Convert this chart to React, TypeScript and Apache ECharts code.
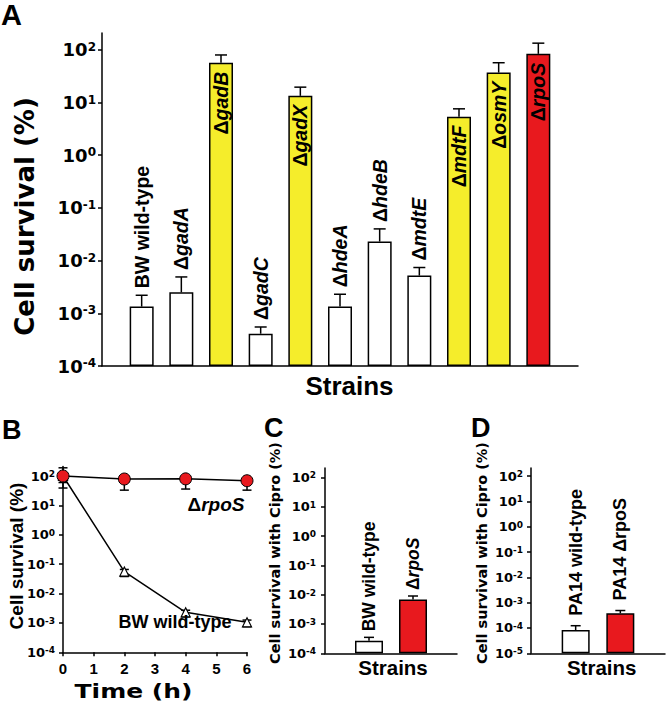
import React, { useEffect, useRef } from 'react';
import * as echarts from 'echarts';

// ---------- Panel A ----------
const strainsA = ['BW wild-type', 'ΔgadA', 'ΔgadB', 'ΔgadC', 'ΔgadX', 'ΔhdeA', 'ΔhdeB', 'ΔmdtE', 'ΔmdtF', 'ΔosmY', 'ΔrpoS'];
const survivalA = [1.34e-3, 2.5e-3, 57, 4.1e-4, 13.4, 1.34e-3, 0.023, 5.2e-3, 5.4, 37, 84];
const errorTopA = [2.2e-3, 4.9e-3, 80, 5.5e-4, 19.6, 2.3e-3, 0.04, 7.4e-3, 7.6, 57, 134];
const fillA = ['white', 'white', 'yellow', 'white', 'yellow', 'white', 'white', 'white', 'yellow', 'yellow', 'red'];
const exponentsA = [-4, -3, -2, -1, 0, 1, 2];

// ---------- Panel B ----------
const timeB = [0, 2, 4, 6];
const timeTicksB = [0, 1, 2, 3, 4, 5, 6];
const rpoSB = [100, 79, 80, 69];
const rpoSLowB = [39, 33, 36, 33];
const rpoSHighB = [190, 100, 100, 85];
const wildB = [100, 0.056, 2.3e-3, 1.05e-3];
const wildLowB = [60, 0.038, 1.6e-3, 7.4e-4];
const wildHighB = [130, 0.066, 2.7e-3, 1.25e-3];
const exponentsB = [-4, -3, -2, -1, 0, 1, 2];

// ---------- Panel C ----------
const strainsC = ['BW wild-type', 'ΔrpoS'];
const survivalC = [2.7e-4, 6.9e-3];
const errorTopC = [3.5e-4, 9.0e-3];
const fillC = ['white', 'red'];
const exponentsC = [-4, -3, -2, -1, 0, 1, 2];

// ---------- Panel D ----------
const strainsD = ['PA14 wild-type', 'PA14 ΔrpoS'];
const survivalD = [8.3e-5, 3.8e-4];
const errorTopD = [1.23e-4, 4.9e-4];
const fillD = ['white', 'red'];
const exponentsD = [-5, -4, -3, -2, -1, 0, 1, 2];

const COLORS: Record<string, string> = { white: '#ffffff', yellow: '#F5ED2B', red: '#E8191E' };
const ARIAL = '"Liberation Sans", Arial, sans-serif';
const WIDE = '"DejaVu Sans", Verdana, sans-serif';
const TOP_PAD = 0.32;

const lg = (v: number, minExp: number) => Math.log10(v) - minExp;

function richToken(size: number, family: string, italic: boolean) {
  return { fontSize: size, fontWeight: 'bold', fontFamily: family, fontStyle: italic ? 'italic' : 'normal', fill: '#000', color: '#000' };
}

function labelText(label: string, italicGene: boolean) {
  const k = label.indexOf('Δ');
  if (k < 0) return `{n|${label}}`;
  const pre = label.slice(0, k + 1);
  const gene = label.slice(k + 1);
  return `{n|${pre}}{${italicGene ? 'i' : 'n'}|${gene}}`;
}

function yAxisLog(gridIndex: number, exps: number[], size: number, sup: number, margin: number) {
  const minExp = exps[0];
  const maxExp = exps[exps.length - 1];
  const vals = exps.map((e) => e - minExp);
  return {
    gridIndex,
    type: 'value',
    min: 0,
    max: maxExp - minExp + TOP_PAD,
    interval: 1,
    axisLine: { show: true, onZero: false, lineStyle: { color: '#000', width: 1.5 } },
    axisTick: { show: true, length: 4, inside: false, customValues: vals, lineStyle: { color: '#000', width: 1.5 } },
    axisLabel: {
      show: true,
      customValues: vals,
      margin,
      formatter: (v: number) => `{b|10}{s|${Math.round(v) + minExp}}`,
      rich: {
        b: { fontSize: size, fontWeight: 'bold', fontFamily: WIDE, color: '#000' },
        s: { fontSize: sup, fontWeight: 'bold', fontFamily: WIDE, color: '#000', verticalAlign: 'top' },
      },
    },
    splitLine: { show: false },
  };
}

function catAxis(gridIndex: number, names: string[]) {
  return {
    gridIndex,
    type: 'category',
    data: ['', ...names, ''],
    boundaryGap: false,
    axisLine: { show: true, onZero: false, lineStyle: { color: '#000', width: 1.5 } },
    axisTick: { show: false },
    axisLabel: { show: false },
    splitLine: { show: false },
  };
}

function barSeries(axisIndex: number, values: number[], fills: string[], minExp: number, width: number) {
  return {
    type: 'bar',
    xAxisIndex: axisIndex,
    yAxisIndex: axisIndex,
    barWidth: width,
    z: 2,
    data: values.map((v, i) => ({
      value: [i + 1, lg(v, minExp)],
      itemStyle: { color: COLORS[fills[i]], borderColor: '#000', borderWidth: 1.5 },
    })),
  };
}

function errLabelSeries(
  axisIndex: number,
  values: number[],
  tops: number[],
  names: string[],
  fills: string[],
  minExp: number,
  cap: number,
  fontSize: number,
  gapOut: number,
  gapIn: number,
  italicGene: boolean,
  colouredInside: boolean
) {
  return {
    type: 'custom',
    xAxisIndex: axisIndex,
    yAxisIndex: axisIndex,
    z: 3,
    data: values.map((v, i) => [i + 1, lg(v, minExp), lg(tops[i], minExp)]),
    renderItem: (params: any, api: any) => {
      const i = params.dataIndex;
      const x = api.value(0);
      const p = api.coord([x, api.value(1)]);
      const e = api.coord([x, api.value(2)]);
      const inside = colouredInside && fills[i] !== 'white';
      const ls = { stroke: '#000', lineWidth: 1.5 };
      return {
        type: 'group',
        children: [
          { type: 'line', shape: { x1: p[0], y1: p[1], x2: e[0], y2: e[1] }, style: ls },
          { type: 'line', shape: { x1: e[0] - cap, y1: e[1], x2: e[0] + cap, y2: e[1] }, style: ls },
          {
            type: 'text',
            x: p[0],
            y: inside ? p[1] + gapIn : e[1] - gapOut,
            rotation: Math.PI / 2,
            style: {
              text: labelText(names[i], italicGene),
              align: inside ? 'right' : 'left',
              verticalAlign: 'middle',
              textAlign: inside ? 'right' : 'left',
              textVerticalAlign: 'middle',
              fontSize,
              fontWeight: 'bold',
              fontFamily: ARIAL,
              fill: '#000',
              rich: { n: richToken(fontSize, ARIAL, false), i: richToken(fontSize, ARIAL, true) },
            },
          },
        ],
      };
    },
  };
}

function errSeriesB(axisIndex: number, lows: number[], highs: number[], minExp: number, cap: number) {
  return {
    type: 'custom',
    xAxisIndex: axisIndex,
    yAxisIndex: axisIndex,
    z: 1,
    data: timeB.map((t, i) => [t, lg(lows[i], minExp), lg(highs[i], minExp)]),
    renderItem: (params: any, api: any) => {
      const lo = api.coord([api.value(0), api.value(1)]);
      const hi = api.coord([api.value(0), api.value(2)]);
      const ls = { stroke: '#000', lineWidth: 1.5 };
      return {
        type: 'group',
        children: [
          { type: 'line', shape: { x1: lo[0], y1: lo[1], x2: hi[0], y2: hi[1] }, style: ls },
          { type: 'line', shape: { x1: lo[0] - cap, y1: lo[1], x2: lo[0] + cap, y2: lo[1] }, style: ls },
          { type: 'line', shape: { x1: hi[0] - cap, y1: hi[1], x2: hi[0] + cap, y2: hi[1] }, style: ls },
        ],
      };
    },
  };
}

function txt(text: string, x: number, y: number, size: number, family: string, opts: any = {}) {
  return {
    type: 'text',
    x,
    y,
    rotation: opts.rot || 0,
    scaleX: opts.sx || 1,
    z: 20,
    style: {
      text,
      fill: '#000',
      fontSize: size,
      fontWeight: 'bold',
      fontFamily: family,
      align: opts.align || 'center',
      verticalAlign: opts.va || 'middle',
      textAlign: opts.align || 'center',
      textVerticalAlign: opts.va || 'middle',
      rich: opts.rich,
    },
  };
}

export default function App() {
  const ref = useRef<HTMLDivElement>(null);
  useEffect(() => {
    if (!ref.current) return;
    const chart = echarts.init(ref.current, undefined, { renderer: 'svg' });
    const minA = exponentsA[0];
    const minB = exponentsB[0];
    const minC = exponentsC[0];
    const minD = exponentsD[0];
    const option: any = {
      animation: false,
      backgroundColor: '#ffffff',
      grid: [
        { left: 102, top: 33, width: 476, height: 333 },
        { left: 63, top: 466.6, width: 184, height: 185.7 },
        { left: 325, top: 468, width: 132, height: 185.3 },
        { left: 531, top: 468, width: 134, height: 185.3 },
      ],
      xAxis: [
        catAxis(0, strainsA),
        {
          gridIndex: 1,
          type: 'value',
          min: 0,
          max: timeTicksB[timeTicksB.length - 1],
          interval: 1,
          axisLine: { show: true, onZero: false, lineStyle: { color: '#000', width: 1.5 } },
          axisTick: { show: true, length: 4, lineStyle: { color: '#000', width: 1.5 } },
          axisLabel: { show: true, margin: 9, fontSize: 15, fontWeight: 'bold', fontFamily: ARIAL, color: '#000' },
          splitLine: { show: false },
        },
        catAxis(2, strainsC),
        catAxis(3, strainsD),
      ],
      yAxis: [
        yAxisLog(0, exponentsA, 18, 12, 6),
        yAxisLog(1, exponentsB, 13, 9, 8),
        yAxisLog(2, exponentsC, 13, 9, 9),
        yAxisLog(3, exponentsD, 13, 9, 8),
      ],
      series: [
        barSeries(0, survivalA, fillA, minA, 24),
        errLabelSeries(0, survivalA, errorTopA, strainsA, fillA, minA, 6, 19.5, 7, 9, true, true),
        errSeriesB(1, wildLowB, wildHighB, minB, 4.5),
        errSeriesB(1, rpoSLowB, rpoSHighB, minB, 4.5),
        {
          type: 'line',
          xAxisIndex: 1,
          yAxisIndex: 1,
          z: 2,
          data: timeB.map((t, i) => [t, lg(wildB[i], minB)]),
          symbol: 'triangle',
          symbolSize: 9,
          lineStyle: { color: '#000', width: 1.5 },
          itemStyle: { color: '#ffffff', borderColor: '#000', borderWidth: 1.2 },
        },
        {
          type: 'line',
          xAxisIndex: 1,
          yAxisIndex: 1,
          z: 3,
          data: timeB.map((t, i) => [t, lg(rpoSB[i], minB)]),
          symbol: 'circle',
          symbolSize: 12,
          lineStyle: { color: '#000', width: 1.5 },
          itemStyle: { color: COLORS.red, borderColor: '#000', borderWidth: 1 },
        },
        barSeries(2, survivalC, fillC, minC, 28),
        errLabelSeries(2, survivalC, errorTopC, strainsC, fillC, minC, 5, 17.5, 6, 9, true, false),
        barSeries(3, survivalD, fillD, minD, 28),
        errLabelSeries(3, survivalD, errorTopD, strainsD, fillD, minD, 5, 18, 10, 9, false, false),
      ],
      graphic: [
        txt('A', 1, 0, 29, ARIAL, { align: 'left', va: 'top' }),
        txt('B', 2, 416, 27, ARIAL, { align: 'left', va: 'top' }),
        txt('C', 264, 414, 27, ARIAL, { align: 'left', va: 'top' }),
        txt('D', 471, 414, 27, ARIAL, { align: 'left', va: 'top' }),
        txt('Cell survival (%)', 25, 216.5, 26, WIDE, { rot: Math.PI / 2 }),
        txt('Strains', 349.5, 386, 26, ARIAL),
        txt('Cell survival (%)', 16, 556, 19, ARIAL, { rot: Math.PI / 2 }),
        txt('Time (h)', 133.5, 691, 20, WIDE, { sx: 1.25 }),
        txt('{n|Δ}{i|rpoS}', 216, 504, 19, ARIAL, {
          rich: { n: richToken(19, ARIAL, false), i: richToken(19, ARIAL, true) },
        }),
        txt('BW wild-type', 175, 622, 18, ARIAL),
        txt('Cell survival with Cipro (%)', 275, 553, 14.5, WIDE, { rot: Math.PI / 2 }),
        txt('Strains', 393, 667, 20.5, ARIAL),
        txt('Cell survival with Cipro (%)', 481.7, 553, 14.5, WIDE, { rot: Math.PI / 2 }),
        txt('Strains', 601.7, 667, 20.5, ARIAL),
      ],
    };
    chart.setOption(option);
    return () => chart.dispose();
  }, []);
  return (
    <div
      ref={ref}
      style={{ position: 'fixed', left: 0, top: 0, width: 667, height: 703, background: '#fff' }}
    />
  );
}
